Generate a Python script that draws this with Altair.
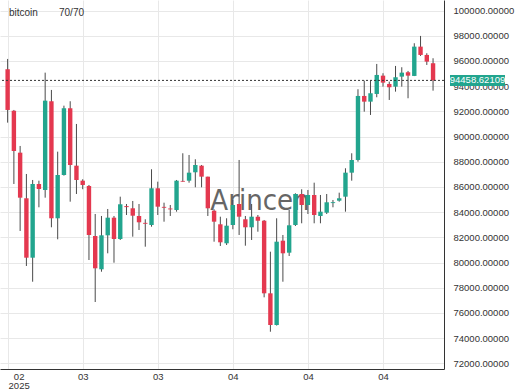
import altair as alt
import pandas as pd

# ---- data (69 visible daily candles) ----
opens = [95344, 92056, 88722, 85101, 80385, 86236, 85760, 92803, 83513, 86951,
         92247, 87689, 86498, 86078, 82108, 79464, 82163, 83561, 81869, 84480,
         84307, 83696, 83150, 82981, 85895, 84420, 84290, 84172, 86480, 86498,
         87165, 87689, 86816, 84116, 83037, 81528, 82981, 84648, 83434, 82798,
         83640, 83322, 77558, 75041, 81735, 80782, 82981, 85442, 84569, 85363,
         83696, 83958, 84720, 84910, 85228, 87134, 88142, 93224, 92771, 93382,
         94835, 94176, 93962, 94756, 95105, 94812, 97138, 96479, 95820]
highs = [96161, 92112, 89254, 87030, 86554, 86498, 95074, 93700, 88801, 92453,
         92803, 91000, 86610, 86157, 83854, 83696, 84251, 83696, 85228, 84648,
         84887, 84648, 83434, 87404, 86419, 84752, 84569, 86554, 88674, 88539,
         88198, 87745, 86816, 84228, 83640, 83513, 84966, 88142, 83696, 84648,
         83775, 83378, 80861, 83513, 82187, 84172, 85498, 85816, 85760, 86340,
         85363, 85442, 84966, 85546, 87483, 88674, 93756, 94438, 94438, 95764,
         95026, 94359, 95606, 95502, 95209, 97408, 97988, 96614, 96217]
lows = [91104, 86236, 82505, 79726, 78479, 84386, 85149, 82798, 81846, 86900,
        84831, 85442, 85821, 80202, 76867, 79273, 80734, 79988, 81790, 83775,
        82052, 82584, 81258, 82846, 83775, 83243, 83696, 84037, 86419, 86340,
        85974, 85974, 83696, 81655, 81314, 81393, 82640, 82187, 81337, 81790,
        82449, 77240, 74509, 75000, 78479, 80520, 82900, 83116, 83854, 83116,
        83116, 83854, 84386, 84831, 84037, 86498, 88007, 91977, 91715, 93120,
        93962, 92906, 93565, 93962, 93041, 94800, 96400, 95685, 93644]
closes = [92112, 88857, 85149, 80385, 86236, 85839, 92850, 83513, 86951, 92247,
          87745, 86554, 86157, 82187, 79543, 82163, 83561, 81869, 84625, 84400,
          83719, 83195, 83080, 85895, 84434, 84350, 84220, 86498, 86420, 87134,
          87745, 86816, 84307, 83243, 81607, 82925, 84569, 83640, 82798, 83640,
          83322, 77558, 75041, 81655, 80734, 82957, 85442, 84569, 85363, 83775,
          84037, 84783, 84790, 85101, 87134, 88142, 93224, 92771, 93438, 94891,
          94280, 93914, 94708, 95074, 94835, 97138, 96479, 95947, 94458.62109]

tick_index = [0, 12, 24, 36, 48, 60]
tick_text = ["02", "03", "03", "04", "04", "04"]
first_year = "2025"
price_ticks = list(range(72000, 100001, 2000))
last_price = 94458.62109
symbol = "bitcoin"
counter = "70/70"
watermark = "Arincen"

UP = "#22a58e"
DOWN = "#e4384f"
WICK = "#4a4a4a"
FONT = "Liberation Sans"

df = pd.DataFrame({"i": list(range(len(opens))), "open": opens, "high": highs,
                   "low": lows, "close": closes})
last_df = pd.DataFrame({"price": [last_price],
                        "label": [f"{last_price:.5f}"]})

# label expression for the x axis
parts = []
for idx, txt in zip(tick_index, tick_text):
    if idx == tick_index[0]:
        parts.append(f"datum.value == {idx} ? ['{txt}', '{first_year}']")
    else:
        parts.append(f"datum.value == {idx} ? '{txt}'")
label_expr = " : ".join(parts) + " : ''"

xs = alt.Scale(domain=[-0.42, 68.95], nice=False, zero=False)
ys = alt.Scale(domain=[71550, 100840], nice=False, zero=False)

x_axis = alt.Axis(values=tick_index, labelExpr=label_expr, title=None,
                  grid=True, gridColor="#e8e8e8", ticks=False,
                  domainColor="#333333", labelColor="#333333",
                  labelFont=FONT, labelFontSize=9.5, labelPadding=2,
                  labelLineHeight=9.5, labelAngle=0, labelOverlap=False,
                  labelBaseline="top",
                  labelOffset={"condition": {"test": "datum.value == 0",
                                             "value": 11}, "value": 0})
y_axis = alt.Axis(values=price_ticks, format=".5f", orient="right", title=None,
                  grid=True, gridColor="#e8e8e8", ticks=False,
                  domainColor="#333333", labelColor="#333333",
                  labelFont=FONT, labelFontSize=9.5, labelPadding=9,
                  labelOverlap=False, labelBound=False)

base = alt.Chart(df)

wm = alt.Chart(pd.DataFrame({"t": [watermark]})).mark_text(
    font="'Liberation Sans Narrow', 'DejaVu Sans Condensed', 'Liberation Sans', sans-serif",
    fontSize=29, color="#666666", align="center", baseline="alphabetic"
).encode(x=alt.value(260), y=alt.value(210), text="t:N")

title1 = alt.Chart(pd.DataFrame({"t": [symbol]})).mark_text(
    font=FONT, fontSize=10, color="#333333", align="left", baseline="middle"
).encode(x=alt.value(9), y=alt.value(13), text="t:N")
title2 = alt.Chart(pd.DataFrame({"t": [counter]})).mark_text(
    font=FONT, fontSize=10, color="#333333", align="left", baseline="middle"
).encode(x=alt.value(59), y=alt.value(13), text="t:N")

wicks = base.mark_rule(color=WICK, strokeWidth=1, clip=True).encode(
    x=alt.X("i:Q", scale=xs, axis=x_axis),
    y=alt.Y("low:Q", scale=ys, axis=y_axis),
    y2="high:Q",
)
bodies = base.mark_bar(size=4.4, clip=True).encode(
    x=alt.X("i:Q", scale=xs, axis=x_axis),
    y=alt.Y("open:Q", scale=ys, axis=y_axis),
    y2="close:Q",
    color=alt.condition("datum.close >= datum.open", alt.value(UP), alt.value(DOWN)),
)

last_line = alt.Chart(last_df).mark_rule(
    color="#333333", strokeDash=[2, 2], strokeWidth=1, clip=True
).encode(y=alt.Y("price:Q", scale=ys, axis=y_axis))

tag = alt.Chart(last_df).mark_tick(
    orient="horizontal", size=55, thickness=11, color=UP, opacity=1
).encode(x=alt.value(477.5), y=alt.Y("price:Q", scale=ys, axis=y_axis))
tag_text = alt.Chart(last_df).mark_text(
    font=FONT, fontSize=9.5, color="white", align="center", baseline="middle"
).encode(x=alt.value(477.5), y=alt.Y("price:Q", scale=ys, axis=y_axis),
         text="label:N")

chart = alt.layer(wm, wicks, bodies, last_line, tag, tag_text, title1, title2).properties(
    width=444, height=369,
    autosize=alt.AutoSizeParams(type="none"),
    padding={"left": 0, "top": 0, "right": 76, "bottom": 21},
    background="white",
).configure_view(stroke=None)

chart.save("out.html", embed_options={"renderer": "svg", "actions": False})
